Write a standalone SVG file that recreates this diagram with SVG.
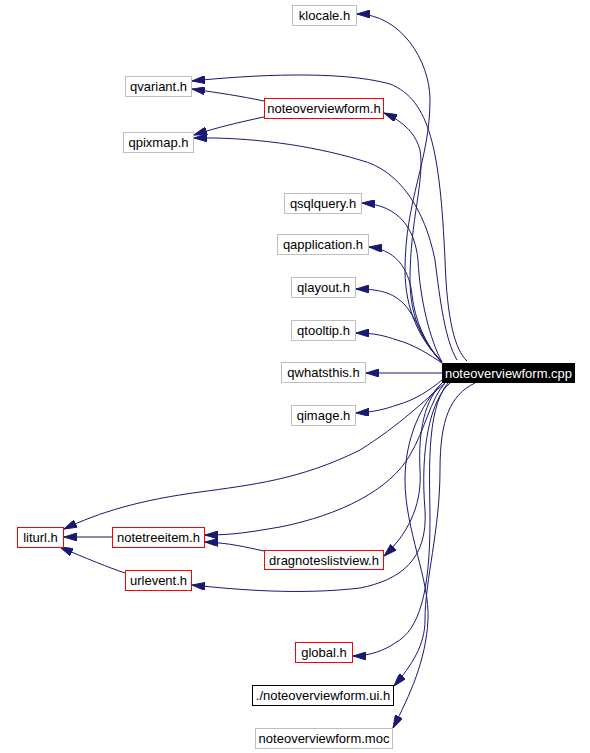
<svg xmlns="http://www.w3.org/2000/svg" width="590" height="753" viewBox="0 0 590 753">
<style>
.n rect{fill:#fff;stroke:#bfbfbf;stroke-width:1}
.n.r rect{stroke:#ff0000}
.n.k rect{stroke:#000}
.n.c rect{fill:#000;stroke:#000}
.n text{font-family:"Liberation Sans",Arial,sans-serif;font-size:13px;fill:#000;text-anchor:middle}
.n.c text{fill:#fff}
#edges path{fill:none;stroke:#191970;stroke-width:1;marker-end:url(#ah)}
</style>
<defs>
<marker id="ah" viewBox="0 0 13 8" refX="13" refY="4" markerWidth="13" markerHeight="8" markerUnits="userSpaceOnUse" orient="auto">
<path d="M0,0 L13,4 L0,8 z" fill="#191970" stroke="#191970"/>
</marker>
</defs>
<rect width="590" height="753" fill="#fff"/>
<g id="edges">
<path d="M442,362 C420,340 405,310 405,270 C405,200 430,160 430,100 C430,60 400,14 357,14"/>
<path d="M467,361 C455,350 447,320 445,260 C440,150 430,100 390,84 C340,70 250,75 192,81"/>
<path d="M264,101 C240,96 220,93 192,89"/>
<path d="M264,117 C240,122 215,128 194,135"/>
<path d="M457,360 C445,340 440,300 435,260 C425,210 400,170 360,160 C310,145 250,137 194,138"/>
<path d="M442,362 C425,345 410,320 410,280 C410,220 425,180 420,150 C416,135 405,122 384,113"/>
<path d="M442,362 C430,340 420,300 418,260 C415,230 400,205 362,203"/>
<path d="M442,362 C425,345 415,320 412,295 C410,275 400,250 369,247"/>
<path d="M442,363 C425,345 418,320 405,305 C395,295 385,289 356,289"/>
<path d="M442,363 C430,355 415,345 397,340 C385,336 375,333 356,333"/>
<path d="M442,373 L366,373"/>
<path d="M442,380 C430,390 415,400 397,405 C385,409 375,412 356,413"/>
<path d="M445,383 C425,400 400,425 360,450 C300,480 250,485 200,492 C140,500 100,512 64,529"/>
<path d="M445,383 C430,400 425,430 410,455 C390,490 340,515 280,527 C250,532 235,535 205,535"/>
<path d="M112,537 L64,537"/>
<path d="M264,551 C245,547 230,543 205,542"/>
<path d="M125,573 C110,568 85,558 60,547"/>
<path d="M442,383 C425,400 418,430 420,470 C422,500 412,530 384,556"/>
<path d="M450,383 C430,400 420,450 425,510 C428,560 400,580 360,588 C300,595 240,590 192,585"/>
<path d="M448,383 C425,410 430,480 430,520 C430,590 420,630 395,643 C385,650 370,656 353,656"/>
<path d="M475,383 C450,395 440,420 440,470 C440,530 425,580 425,620 C425,645 412,665 394,686"/>
<path d="M442,383 C420,405 405,440 405,480 C405,530 430,580 428,620 C426,660 410,695 393,728"/>
</g>
<g id="n_klocale" class="n"><rect x="292.5" y="5.5" width="64" height="20"/><text x="324.5" y="20">klocale.h</text></g>
<g id="n_qvariant" class="n"><rect x="125.5" y="76.5" width="66" height="20"/><text x="158.5" y="91">qvariant.h</text></g>
<g id="n_noteoverviewform_h" class="n r"><rect x="264.5" y="98.5" width="119" height="20"/><text x="324" y="113">noteoverviewform.h</text></g>
<g id="n_qpixmap" class="n"><rect x="123.5" y="132.5" width="70" height="20"/><text x="158.5" y="147">qpixmap.h</text></g>
<g id="n_qsqlquery" class="n"><rect x="284.5" y="193.5" width="77" height="20"/><text x="323" y="208">qsqlquery.h</text></g>
<g id="n_qapplication" class="n"><rect x="277.5" y="234.5" width="91" height="20"/><text x="323" y="249">qapplication.h</text></g>
<g id="n_qlayout" class="n"><rect x="291.5" y="277.5" width="64" height="20"/><text x="323.5" y="292">qlayout.h</text></g>
<g id="n_qtooltip" class="n"><rect x="291.5" y="320.5" width="64" height="20"/><text x="323.5" y="335">qtooltip.h</text></g>
<g id="n_qwhatsthis" class="n"><rect x="281.5" y="362.5" width="84" height="20"/><text x="323.5" y="377">qwhatsthis.h</text></g>
<g id="n_qimage" class="n"><rect x="291.5" y="405.5" width="64" height="20"/><text x="323.5" y="420">qimage.h</text></g>
<g id="n_cpp" class="n c"><rect x="442.5" y="363.5" width="132" height="19"/><text x="508.5" y="378">noteoverviewform.cpp</text></g>
<g id="n_liturl" class="n r"><rect x="17.5" y="527.5" width="46" height="20"/><text x="40.5" y="542">liturl.h</text></g>
<g id="n_notetreeitem" class="n r"><rect x="112.5" y="527.5" width="92" height="20"/><text x="158.5" y="542">notetreeitem.h</text></g>
<g id="n_dragnoteslistview" class="n r"><rect x="264.5" y="550.5" width="119" height="19"/><text x="324" y="565">dragnoteslistview.h</text></g>
<g id="n_urlevent" class="n r"><rect x="125.5" y="570.5" width="66" height="20"/><text x="158.5" y="585">urlevent.h</text></g>
<g id="n_global" class="n r"><rect x="295.5" y="642.5" width="57" height="20"/><text x="324" y="657">global.h</text></g>
<g id="n_ui" class="n k"><rect x="252.5" y="685.5" width="141" height="20"/><text x="323" y="700">./noteoverviewform.ui.h</text></g>
<g id="n_moc" class="n"><rect x="255.5" y="728.5" width="137" height="20"/><text x="324" y="743">noteoverviewform.moc</text></g>
</svg>
